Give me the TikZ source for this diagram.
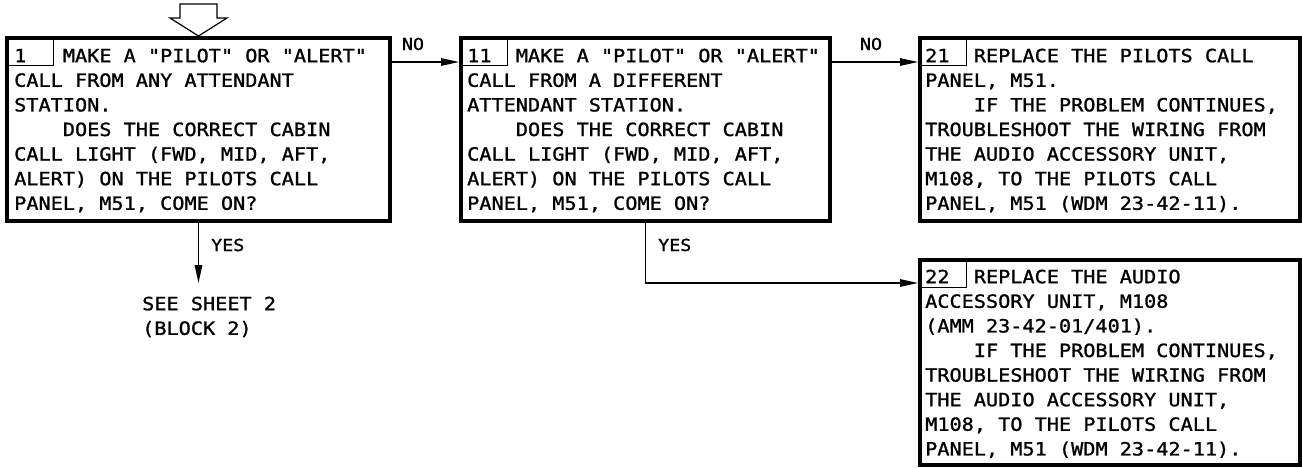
\documentclass[tikz,border=0pt]{standalone}
\usepackage{fontspec}
\usetikzlibrary{arrows.meta}
\newfontfamily\boe[FakeStretch=1.11,FakeBold=1.2]{DejaVu Sans Mono}
\newcommand\bodyfont{\boe\fontsize{18.2}{24.6}\selectfont\frenchspacing}
\newcommand\lblfont{\boe\fontsize{16.5}{20}\selectfont}
\newcommand\fs{\rule{0pt}{15pt}}
\newcommand\sk[1]{\phantom{#1}}
\begin{document}
\begin{tikzpicture}[x=1pt,y=-1pt,
  box/.style={draw, line width=3.6pt, rectangle, inner sep=0pt, anchor=north west},
  numbox/.style={draw, line width=1.2pt, rectangle, inner sep=0pt, anchor=north west, minimum width=47.5pt, minimum height=28.5pt},
  txt/.style={font=\bodyfont, align=left, inner sep=0pt, anchor=north west},
  lbl/.style={font=\lblfont, inner sep=0pt},
  conn/.style={line width=1.2pt, -{Triangle[length=18pt,width=7.5pt]}},
  entry/.style={line width=1.2pt, line join=miter}
]
\useasboundingbox (0,0) rectangle (1302,467);
% boxes
\node[box, minimum width=383.4pt, minimum height=183.4pt] (b1) at (5,36) {};
\node[box, minimum width=369.4pt, minimum height=183.4pt] (b11) at (459,36) {};
\node[box, minimum width=380.4pt, minimum height=183.4pt] (b21) at (918,36) {};
\node[box, minimum width=380.4pt, minimum height=205.4pt] (b22) at (918,258) {};
% number boxes
\node[numbox] (n1) at (b1.north west) {};
\node[numbox] (n11) at (b11.north west) {};
\node[numbox] (n21) at (b21.north west) {};
\node[numbox] (n22) at (b22.north west) {};
% texts
\node[txt] (t1) at (14,47) {\fs1\sk{000}MAKE A "PILOT" OR "ALERT"\\CALL FROM ANY ATTENDANT\\STATION.\\\sk{0000}DOES THE CORRECT CABIN\\CALL LIGHT (FWD, MID, AFT,\\ALERT) ON THE PILOTS CALL\\PANEL, M51, COME ON?};
\node[txt] (t11) at (467,47) {\fs11\sk{00}MAKE A "PILOT" OR "ALERT"\\CALL FROM A DIFFERENT\\ATTENDANT STATION.\\\sk{0000}DOES THE CORRECT CABIN\\CALL LIGHT (FWD, MID, AFT,\\ALERT) ON THE PILOTS CALL\\PANEL, M51, COME ON?};
\node[txt] (t21) at (925,47) {\fs21\sk{00}REPLACE THE PILOTS CALL\\PANEL, M51.\\\sk{0000}IF THE PROBLEM CONTINUES,\\TROUBLESHOOT THE WIRING FROM\\THE AUDIO ACCESSORY UNIT,\\M108, TO THE PILOTS CALL\\PANEL, M51 (WDM 23-42-11).};
\node[txt] (t22) at (925,268) {\fs22\sk{00}REPLACE THE AUDIO\\ACCESSORY UNIT, M108\\(AMM 23-42-01/401).\\\sk{0000}IF THE PROBLEM CONTINUES,\\TROUBLESHOOT THE WIRING FROM\\THE AUDIO ACCESSORY UNIT,\\M108, TO THE PILOTS CALL\\PANEL, M51 (WDM 23-42-11).};
\node[txt] (see) at (142,295) {\fs SEE SHEET 2\\(BLOCK 2)};
% labels
\node[lbl, anchor=base] (no1) at (413,50) {NO};
\node[lbl, anchor=base] (no2) at (871,50) {NO};
\node[lbl, anchor=base west] (yes1) at (211,251) {YES};
\node[lbl, anchor=base west] (yes2) at (658,251) {YES};
% entry arrow
\draw[entry] (180,4) -- (217,4) -- (217,18) -- (227,18) -- (b1.north) -- (170,18) -- (180,18) -- cycle;
% connectors
\coordinate (ya) at (0,62);
\coordinate (yb) at (0,283);
\coordinate (e1) at (198.5,283);
\draw[conn] (b1.east |- ya) -- (b11.west |- ya);
\draw[conn] (b11.east |- ya) -- (b21.west |- ya);
\draw[conn] (b1.south) -- (e1);
\draw[conn] (b11.south) |- (b22.west |- yb);
\end{tikzpicture}
\end{document}
